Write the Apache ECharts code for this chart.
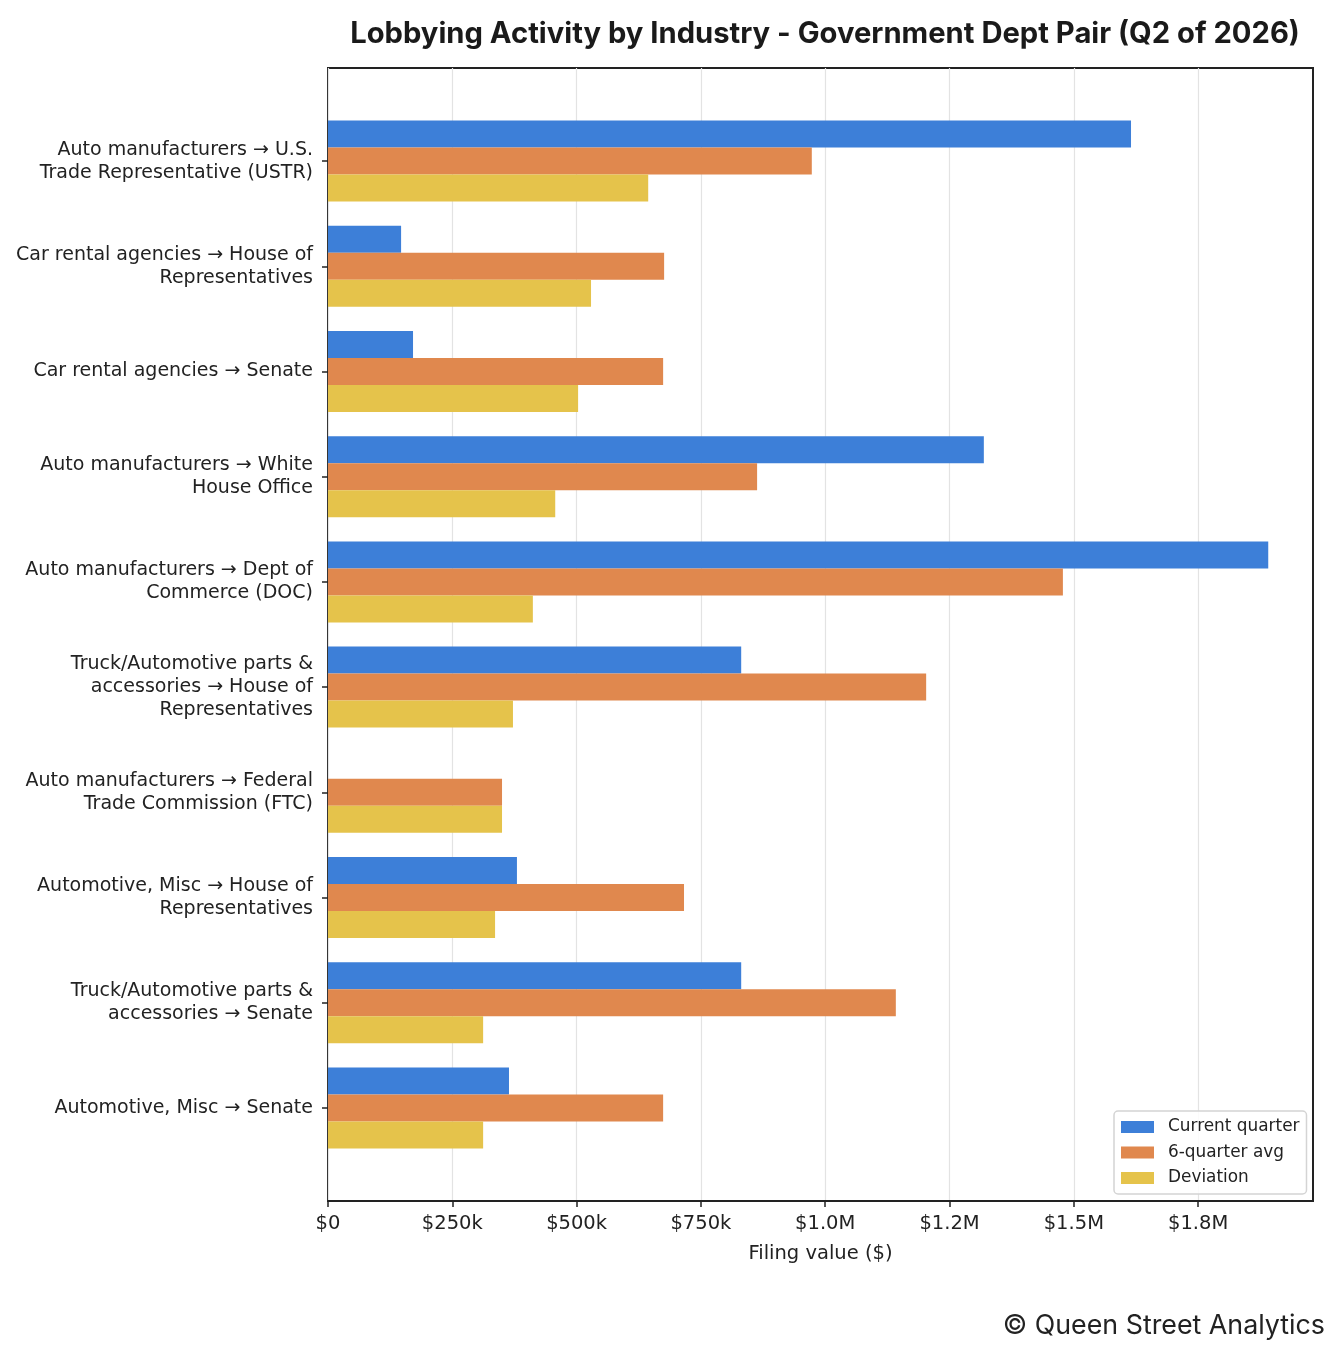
<!DOCTYPE html>
<html>
<head>
<meta charset="utf-8">
<script src="https://cdn.jsdelivr.net/npm/echarts@6/dist/echarts.min.js"></script>
<style>
  html, body { margin: 0; padding: 0; background: #fff; }
  #chart { width: 1339px; height: 1360px; }
</style>
</head>
<body>
<div id="chart"></div>
<script>
// data
const categories = [
  'Auto manufacturers → U.S. Trade Representative (USTR)',
  'Car rental agencies → House of Representatives',
  'Car rental agencies → Senate',
  'Auto manufacturers → White House Office',
  'Auto manufacturers → Dept of Commerce (DOC)',
  'Truck/Automotive parts & accessories → House of Representatives',
  'Auto manufacturers → Federal Trade Commission (FTC)',
  'Automotive, Misc → House of Representatives',
  'Truck/Automotive parts & accessories → Senate',
  'Automotive, Misc → Senate'
];
const currentQuarter = [1615000, 147000, 171000, 1319000, 1891000, 831000, 0, 380000, 831000, 364000];
const sixQuarterAvg = [973000, 676000, 674000, 863000, 1478000, 1203000, 350000, 716000, 1142000, 674000];
const deviation = [644000, 529000, 503000, 457000, 412000, 372000, 350000, 336000, 312000, 312000];
const tickValues = [0, 250000, 500000, 750000, 1000000, 1250000, 1500000, 1750000];
const tickLabels = ['$0', '$250k', '$500k', '$750k', '$1.0M', '$1.2M', '$1.5M', '$1.8M'];

const X_MAX = 1981000;
const TICK = 250000;

// wrap like textwrap at 30 chars
function wrap(s, width) {
  const words = s.split(' ');
  const lines = [];
  let cur = '';
  words.forEach(w => {
    if (!cur) cur = w;
    else if ((cur + ' ' + w).length <= width) cur += ' ' + w;
    else { lines.push(cur); cur = w; }
  });
  if (cur) lines.push(cur);
  return lines.join('\n');
}

const labelFont = "'DejaVu Sans', sans-serif";
const titleFont = "'Inter', sans-serif";
const chart = echarts.init(document.getElementById('chart'));

chart.setOption({
  animation: false,
  title: {
    text: 'Lobbying Activity by Industry - Government Dept Pair (Q2 of 2026)',
    left: 820,
    top: 15,
    textAlign: 'center',
    textStyle: { fontFamily: titleFont, fontWeight: 'bold', fontSize: 29.2, color: '#1a1a1a' }
  },
  graphic: [{
    type: 'text',
    right: 14,
    top: 1312,
    style: { text: '© Queen Street Analytics', fontFamily: titleFont, fontSize: 26.8, fill: '#222' }
  }],
  legend: {
    orient: 'vertical',
    left: 1114,
    top: 1111,
    padding: [7, 7, 7, 7],
    itemWidth: 33,
    itemHeight: 12,
    itemGap: 7.5,
    borderColor: '#d4d4d4',
    borderWidth: 1.5,
    borderRadius: 4,
    backgroundColor: 'rgba(255,255,255,0.85)',
    icon: 'rect',
    textStyle: { fontFamily: labelFont, fontSize: 16.9, lineHeight: 18, color: '#222', padding: [0, 0, 0, 9] },
    data: ['Current quarter', '6-quarter avg', 'Deviation']
  },
  grid: [
    { left: 328, top: 108.5, width: 985, height: 1052 },
    { left: 328, top: 68, width: 985, height: 1133, show: true, borderColor: '#222', borderWidth: 2, backgroundColor: 'transparent' }
  ],
  xAxis: [
    { gridIndex: 0, type: 'value', min: 0, max: X_MAX, interval: TICK, show: false },
    {
      gridIndex: 1, type: 'value', min: 0, max: X_MAX, interval: TICK,
      name: 'Filing value ($)', nameLocation: 'middle', nameGap: 43,
      nameTextStyle: { fontFamily: labelFont, fontSize: 19.5, color: '#222' },
      axisLine: { show: true, lineStyle: { color: '#222', width: 2 } },
      axisTick: { show: true, length: 6, customValues: tickValues, lineStyle: { color: '#222', width: 1.5 } },
      axisLabel: {
        margin: 13, fontFamily: labelFont, fontSize: 19.5, color: '#222',
        customValues: tickValues,
        formatter: v => tickLabels[tickValues.indexOf(v)] || ''
      },
      splitLine: { show: true, lineStyle: { color: '#e3e3e3', width: 1.2 } }
    }
  ],
  yAxis: [
    {
      gridIndex: 0, type: 'category', inverse: true, data: categories,
      axisLine: { show: false },
      axisTick: { show: true, alignWithLabel: true, length: 6, lineStyle: { color: '#222', width: 1.5 } },
      axisLabel: {
        margin: 15, fontFamily: labelFont, fontSize: 19, color: '#222', lineHeight: 23, align: 'right',
        formatter: v => wrap(v, 30)
      },
      splitLine: { show: false }
    },
    { gridIndex: 1, type: 'value', min: 0, max: 1, show: false }
  ],
  series: [
    { name: 'Current quarter', type: 'bar', xAxisIndex: 0, yAxisIndex: 0, data: currentQuarter,
      barWidth: 27, barGap: '0%', itemStyle: { color: '#3d7fd8' } },
    { name: '6-quarter avg', type: 'bar', xAxisIndex: 0, yAxisIndex: 0, data: sixQuarterAvg,
      barWidth: 27, barGap: '0%', itemStyle: { color: '#e0884e' } },
    { name: 'Deviation', type: 'bar', xAxisIndex: 0, yAxisIndex: 0, data: deviation,
      barWidth: 27, barGap: '0%', itemStyle: { color: '#e5c34b' } }
  ]
});
</script>
</body>
</html>
